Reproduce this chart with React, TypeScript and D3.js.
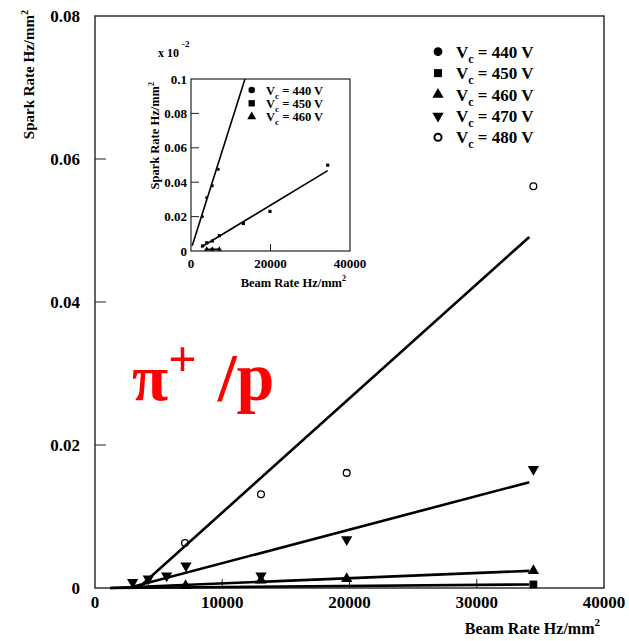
import React from "react";
import * as d3 from "d3";

// ---------- main plot data ----------
const xTicksMain = [0, 10000, 20000, 30000, 40000];
const yTicksMain = [0, 0.02, 0.04, 0.06, 0.08];
const yTickLabelsMain = ["0", "0.02", "0.04", "0.06", "0.08"];

const x450 = [34450];
const y450 = [0.0005];
const x460 = [7120, 13045, 19780, 34450];
const y460 = [0.0003, 0.0011, 0.0013, 0.0024];
const x470 = [2960, 4190, 5630, 7150, 13045, 19780, 34450];
const y470 = [0.0008, 0.0013, 0.0017, 0.0031, 0.0017, 0.0068, 0.0166];
const x480 = [7070, 13045, 19780, 34450];
const y480 = [0.0063, 0.0131, 0.0161, 0.0562];

// fitted lines (x, y) end points
const fit480X = [3400, 34130];
const fit480Y = [0, 0.0491];
const fit470X = [2600, 34130];
const fit470Y = [0, 0.0148];
const fit460X = [1200, 34130];
const fit460Y = [0, 0.0024];
const fit450X = [1200, 34130];
const fit450Y = [0, 0.0005];

const legendMain = ["440", "450", "460", "470", "480"];

// ---------- inset data (units of 10^-2) ----------
const xTicksInset = [0, 20000, 40000];
const yTicksInset = [0, 0.02, 0.04, 0.06, 0.08, 0.1];
const yTickLabelsInset = ["0", "0.02", "0.04", "0.06", "0.08", "0.1"];
const in440X = [2840, 3950, 5360, 6870];
const in440Y = [0.02, 0.031, 0.038, 0.0475];
const in450X = [2930, 3950, 5360, 7120, 13160, 19870, 34390];
const in450Y = [0.003, 0.0048, 0.0058, 0.0089, 0.016, 0.023, 0.0499];
const in460X = [3950, 5360, 7120];
const in460Y = [0.001, 0.001, 0.001];
const inFit440X = [300, 16000];
const inFit440Y = [0.003, 0.1177];
const inFit450X = [2520, 34390];
const inFit450Y = [0.0022, 0.0467];
const inFit460X = [3950, 7120];
const inFit460Y = [0.001, 0.001];
const legendInset = ["440", "450", "460"];

const FONT = "'Liberation Serif', 'Times New Roman', serif";

export default function App() {
  const mx = d3.scaleLinear().domain([0, 40000]).range([95, 604]);
  const my = d3.scaleLinear().domain([0, 0.08]).range([588, 16]);
  const ix = d3.scaleLinear().domain([0, 40000]).range([191, 350]);
  const iy = d3.scaleLinear().domain([0, 0.1]).range([251, 79]);

  const sym = (type: any, size: number) => d3.symbol().type(type).size(size)() as string;
  const circleBig = sym(d3.symbolCircle, 36);
  const squareBig = sym(d3.symbolSquare, 60);
  const triBig = sym(d3.symbolTriangle, 55);
  const circleSmall = sym(d3.symbolCircle, 8);
  const squareSmall = sym(d3.symbolSquare, 10);
  const triSmall = sym(d3.symbolTriangle, 12);

  const lineGen = (sx: any, sy: any) =>
    d3.line<[number, number]>().x((d) => sx(d[0])).y((d) => sy(d[1]));
  const mLine = lineGen(mx, my);
  const iLine = lineGen(ix, iy);
  const pairs = (xs: number[], ys: number[]) => xs.map((v, i) => [v, ys[i]] as [number, number]);

  const pts = (xs: number[], ys: number[], sx: any, sy: any, d: string, opts: any, rot = 0) =>
    xs.map((v, i) => (
      <path
        key={i}
        d={d}
        transform={`translate(${sx(v)},${sy(ys[i])}) rotate(${rot})`}
        {...opts}
      />
    ));

  const legendRowsMain = legendMain.map((v, i) => {
    const y = 51.7 + i * 21.4;
    let marker;
    if (i === 0) marker = <path d={sym(d3.symbolCircle, 60)} fill="#000" />;
    else if (i === 1) marker = <path d={sym(d3.symbolSquare, 64)} fill="#000" />;
    else if (i === 2) marker = <path d={sym(d3.symbolTriangle, 55)} fill="#000" />;
    else if (i === 3) marker = <path d={sym(d3.symbolTriangle, 55)} fill="#000" transform="rotate(180)" />;
    else marker = <path d={sym(d3.symbolCircle, 40)} fill="none" stroke="#000" strokeWidth={2} />;
    return (
      <g key={v}>
        <g transform={`translate(438,${y})`}>{marker}</g>
        <text x={456} y={y + 6} fontFamily={FONT} fontWeight="bold" fontSize={17} fill="#000">
          V<tspan fontSize={12} dy={5}>c</tspan>
          <tspan dy={-5}> = {v} V</tspan>
        </text>
      </g>
    );
  });

  const legendRowsInset = legendInset.map((v, i) => {
    const y = 90 + i * 13.3;
    let marker;
    if (i === 0) marker = <path d={sym(d3.symbolCircle, 34)} fill="#000" />;
    else if (i === 1) marker = <path d={sym(d3.symbolSquare, 40)} fill="#000" />;
    else marker = <path d={sym(d3.symbolTriangle, 34)} fill="#000" />;
    return (
      <g key={v}>
        <g transform={`translate(251.7,${y})`}>{marker}</g>
        <text x={266} y={y + 4.5} fontFamily={FONT} fontWeight="bold" fontSize={12.5} fill="#000">
          V<tspan fontSize={9} dy={4}>c</tspan>
          <tspan dy={-4}> = {v} V</tspan>
        </text>
      </g>
    );
  });

  return (
    <div style={{ position: "fixed", left: 0, top: 0 }}>
      <svg width={629} height={641} style={{ display: "block", background: "#fff" }}>
        <defs>
          <clipPath id="insetClip">
            <rect x={191} y={79} width={159} height={172} />
          </clipPath>
        </defs>

        {/* ---------- main frame ---------- */}
        <rect x={95} y={16} width={509} height={572} fill="none" stroke="#222" strokeWidth={1.4} />
        {yTicksMain.slice(1, -1).map((t) => (
          <line key={t} x1={95} x2={106} y1={my(t)} y2={my(t)} stroke="#222" strokeWidth={1} />
        ))}
        {xTicksMain.slice(1, -1).map((t) => (
          <line key={t} x1={mx(t)} x2={mx(t)} y1={588} y2={579} stroke="#222" strokeWidth={1} />
        ))}
        {yTicksMain.map((t, i) => (
          <text key={t} x={80} y={my(t) + 6} textAnchor="end" fontFamily={FONT} fontWeight="bold" fontSize={17}>
            {yTickLabelsMain[i]}
          </text>
        ))}
        {xTicksMain.map((t) => (
          <text key={t} x={mx(t)} y={608} textAnchor="middle" fontFamily={FONT} fontWeight="bold" fontSize={17}>
            {t}
          </text>
        ))}
        <text x={600} y={634} textAnchor="end" fontFamily={FONT} fontWeight="bold" fontSize={16}>
          Beam Rate Hz/mm
          <tspan fontSize={11} dy={-8}>2</tspan>
        </text>
        <text transform="translate(34,10) rotate(-90)" textAnchor="end" fontFamily={FONT} fontWeight="bold" fontSize={15}>
          Spark Rate Hz/mm
          <tspan fontSize={10} dy={-6}>2</tspan>
        </text>

        {/* fitted lines */}
        {[
          [fit480X, fit480Y],
          [fit470X, fit470Y],
          [fit460X, fit460Y],
          [fit450X, fit450Y],
        ].map(([xs, ys], i) => (
          <path key={i} d={mLine(pairs(xs, ys)) as string} fill="none" stroke="#000" strokeWidth={2.6} />
        ))}

        {/* markers */}
        {pts(x450, y450, mx, my, squareBig, { fill: "#000" })}
        {pts(x460, y460, mx, my, triBig, { fill: "#000" })}
        {pts(x470, y470, mx, my, triBig, { fill: "#000" }, 180)}
        {pts(x480, y480, mx, my, circleBig, { fill: "none", stroke: "#000", strokeWidth: 1.3 })}

        {legendRowsMain}

        {/* red label */}
        <text x={132} y={400} fontFamily={FONT} fontWeight="bold" fontSize={66} fill="#ff0000">
          π
          <tspan fontSize={50} dy={-24}>+</tspan>
          <tspan dy={24} dx={4} fontSize={68}> /p</tspan>
        </text>

        {/* ---------- inset ---------- */}
        <rect x={191} y={79} width={159} height={172} fill="none" stroke="#222" strokeWidth={1.2} />
        {yTicksInset.slice(1, -1).map((t) => (
          <line key={t} x1={191} x2={199} y1={iy(t)} y2={iy(t)} stroke="#222" strokeWidth={1} />
        ))}
        {xTicksInset.slice(1, -1).map((t) => (
          <line key={t} x1={ix(t)} x2={ix(t)} y1={251} y2={244} stroke="#222" strokeWidth={1} />
        ))}
        {yTicksInset.map((t, i) => (
          <text key={t} x={187} y={iy(t) + 4.5} textAnchor="end" fontFamily={FONT} fontWeight="bold" fontSize={13}>
            {yTickLabelsInset[i]}
          </text>
        ))}
        {xTicksInset.map((t) => (
          <text key={t} x={ix(t)} y={268} textAnchor="middle" fontFamily={FONT} fontWeight="bold" fontSize={13}>
            {t}
          </text>
        ))}
        <text x={346} y={287} textAnchor="end" fontFamily={FONT} fontWeight="bold" fontSize={12.5}>
          Beam Rate Hz/mm
          <tspan fontSize={8} dy={-6}>2</tspan>
        </text>
        <text transform="translate(159,82) rotate(-90)" textAnchor="end" fontFamily={FONT} fontWeight="bold" fontSize={12.5}>
          Spark Rate Hz/mm
          <tspan fontSize={8} dy={-5}>2</tspan>
        </text>
        <text x={158} y={57} fontFamily={FONT} fontWeight="bold" fontSize={12}>
          x 10
          <tspan fontSize={9} dx={3} dy={-10}>-2</tspan>
        </text>

        <g clipPath="url(#insetClip)">
          {[
            [inFit440X, inFit440Y],
            [inFit450X, inFit450Y],
            [inFit460X, inFit460Y],
          ].map(([xs, ys], i) => (
            <path key={i} d={iLine(pairs(xs, ys)) as string} fill="none" stroke="#000" strokeWidth={1.6} />
          ))}
          {pts(in440X, in440Y, ix, iy, circleSmall, { fill: "#000" })}
          {pts(in450X, in450Y, ix, iy, squareSmall, { fill: "#000" })}
          {pts(in460X, in460Y, ix, iy, triSmall, { fill: "#000" })}
        </g>

        {legendRowsInset}
      </svg>
    </div>
  );
}
